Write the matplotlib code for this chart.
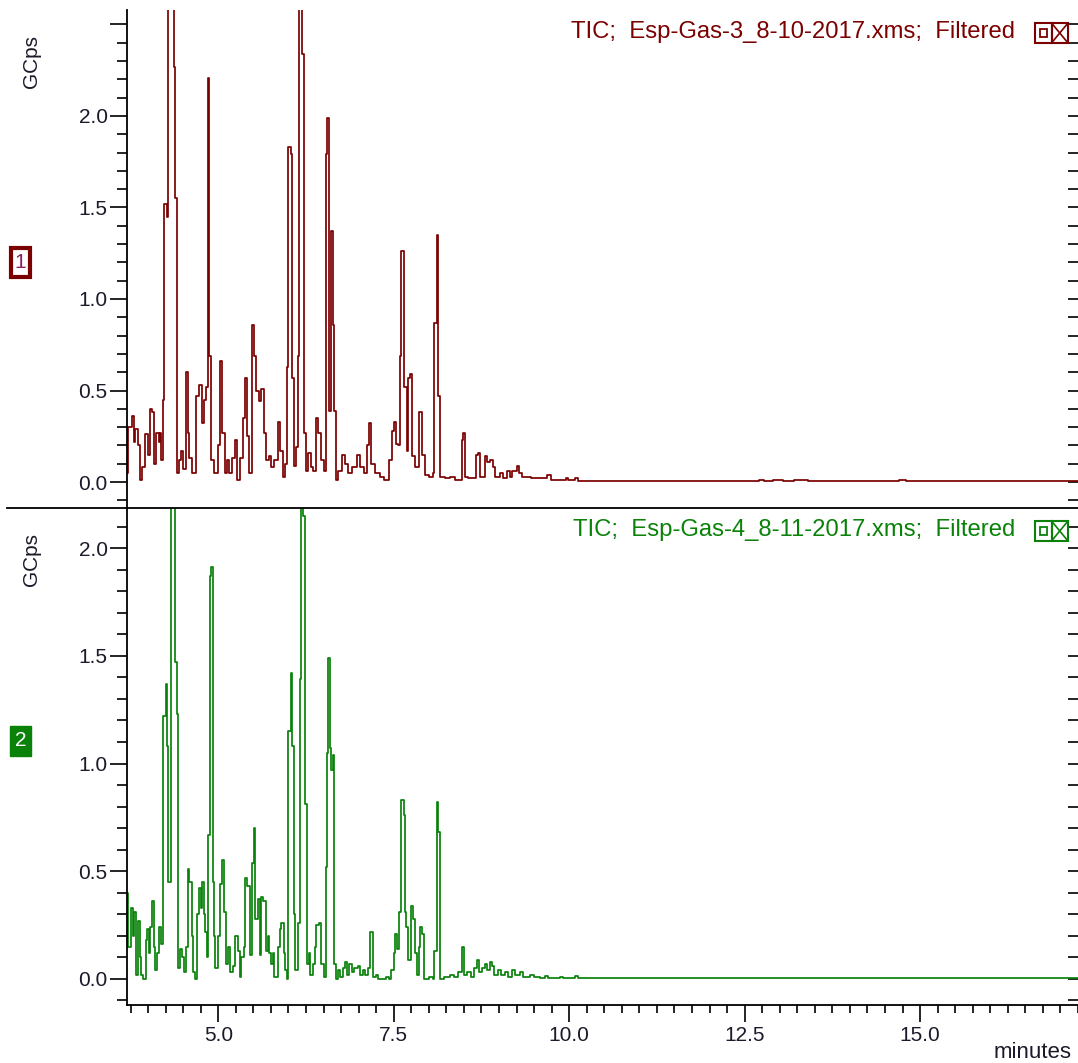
import numpy as np
import matplotlib.pyplot as plt
from matplotlib.lines import Line2D
from matplotlib.patches import Rectangle
from matplotlib.ticker import MultipleLocator, FuncFormatter, FormatStrFormatter

plt.rcParams['font.family'] = ['Liberation Sans', 'DejaVu Sans']

# TIC of Esp-Gas-3: scan time (min) where the signal steps, and its level (GCps)
t_3 = [3.70, 3.72, 3.77, 3.80, 3.82, 3.86, 3.89, 3.92, 3.96, 4.00,
       4.03, 4.06, 4.08, 4.12, 4.15, 4.17, 4.19, 4.21, 4.23, 4.27,
       4.29, 4.37, 4.39, 4.41, 4.44, 4.47, 4.50, 4.54, 4.57, 4.59,
       4.63, 4.68, 4.72, 4.77, 4.79, 4.83, 4.85, 4.87, 4.90, 4.94,
       4.99, 5.02, 5.06, 5.09, 5.13, 5.16, 5.20, 5.24, 5.27, 5.31,
       5.35, 5.38, 5.41, 5.44, 5.48, 5.51, 5.54, 5.58, 5.61, 5.65,
       5.68, 5.72, 5.75, 5.80, 5.85, 5.88, 5.92, 5.95, 5.98, 5.99,
       6.03, 6.05, 6.08, 6.11, 6.13, 6.15, 6.20, 6.22, 6.25, 6.28,
       6.32, 6.35, 6.40, 6.42, 6.46, 6.50, 6.53, 6.55, 6.58, 6.61,
       6.63, 6.65, 6.68, 6.71, 6.76, 6.80, 6.85, 6.90, 6.98, 7.02,
       7.07, 7.12, 7.15, 7.18, 7.23, 7.31, 7.36, 7.43, 7.47, 7.50,
       7.53, 7.56, 7.59, 7.61, 7.64, 7.69, 7.71, 7.73, 7.76, 7.80,
       7.86, 7.90, 7.94, 8.01, 8.06, 8.08, 8.11, 8.13, 8.16, 8.23,
       8.30, 8.38, 8.47, 8.49, 8.52, 8.56, 8.67, 8.70, 8.73, 8.80,
       8.83, 8.87, 8.91, 8.94, 9.01, 9.06, 9.11, 9.15, 9.19, 9.25,
       9.28, 9.33, 9.39, 9.46, 9.62, 9.69, 9.74, 9.96, 9.99, 10.08,
       10.12, 12.70, 12.78, 12.90, 13.05, 13.20, 13.40, 14.70, 14.80, 14.95,
       17.30]
v_3 = [0.05, 0.30, 0.36, 0.22, 0.29, 0.20, 0.01, 0.08, 0.26, 0.15,
       0.40, 0.38, 0.10, 0.27, 0.22, 0.27, 0.12, 0.45, 1.52, 1.45,
       2.80, 2.27, 1.55, 0.05, 0.12, 0.17, 0.07, 0.60, 0.27, 0.13,
       0.05, 0.47, 0.53, 0.32, 0.45, 0.52, 2.21, 0.69, 0.12, 0.05,
       0.20, 0.66, 0.27, 0.05, 0.12, 0.05, 0.13, 0.23, 0.01, 0.13,
       0.35, 0.57, 0.25, 0.05, 0.86, 0.69, 0.50, 0.44, 0.51, 0.27,
       0.12, 0.14, 0.08, 0.12, 0.33, 0.17, 0.03, 0.10, 0.63, 1.83,
       1.79, 0.57, 0.09, 0.19, 0.69, 2.80, 2.34, 0.27, 0.06, 0.16,
       0.08, 0.06, 0.35, 0.27, 0.12, 0.06, 1.79, 1.99, 0.39, 1.37,
       0.86, 0.39, 0.01, 0.06, 0.15, 0.10, 0.05, 0.08, 0.15, 0.08,
       0.05, 0.20, 0.32, 0.10, 0.05, 0.03, 0.01, 0.12, 0.28, 0.33,
       0.21, 0.20, 0.69, 1.26, 0.52, 0.17, 0.57, 0.59, 0.14, 0.08,
       0.38, 0.15, 0.04, 0.03, 0.05, 0.87, 1.35, 0.47, 0.03, 0.02,
       0.03, 0.01, 0.23, 0.27, 0.03, 0.02, 0.15, 0.16, 0.03, 0.14,
       0.11, 0.12, 0.08, 0.03, 0.05, 0.02, 0.06, 0.03, 0.06, 0.09,
       0.05, 0.03, 0.03, 0.02, 0.02, 0.04, 0.01, 0.02, 0.01, 0.02,
       0.003, 0.010, 0.004, 0.010, 0.004, 0.012, 0.003, 0.010, 0.004, 0.003,
       0.003]

# TIC of Esp-Gas-4
t_4 = [3.70, 3.72, 3.75, 3.78, 3.80, 3.83, 3.86, 3.89, 3.90, 3.93,
       3.97, 3.99, 4.01, 4.03, 4.05, 4.08, 4.10, 4.13, 4.16, 4.19,
       4.22, 4.25, 4.27, 4.29, 4.33, 4.38, 4.41, 4.43, 4.45, 4.48,
       4.51, 4.54, 4.57, 4.59, 4.62, 4.64, 4.67, 4.70, 4.72, 4.75,
       4.77, 4.79, 4.81, 4.84, 4.86, 4.88, 4.90, 4.92, 4.94, 4.96,
       4.99, 5.02, 5.05, 5.08, 5.11, 5.14, 5.17, 5.21, 5.24, 5.28,
       5.31, 5.33, 5.36, 5.38, 5.41, 5.45, 5.48, 5.51, 5.53, 5.56,
       5.59, 5.61, 5.64, 5.68, 5.71, 5.73, 5.75, 5.78, 5.80, 5.85,
       5.88, 5.90, 5.93, 5.95, 5.98, 6.00, 6.03, 6.05, 6.08, 6.10,
       6.13, 6.16, 6.18, 6.21, 6.23, 6.26, 6.29, 6.31, 6.35, 6.38,
       6.40, 6.44, 6.47, 6.50, 6.53, 6.55, 6.57, 6.59, 6.61, 6.64,
       6.65, 6.68, 6.71, 6.74, 6.78, 6.80, 6.84, 6.87, 6.90, 6.94,
       6.99, 7.02, 7.06, 7.09, 7.13, 7.16, 7.20, 7.25, 7.28, 7.39,
       7.44, 7.46, 7.50, 7.52, 7.55, 7.58, 7.61, 7.64, 7.66, 7.68,
       7.71, 7.74, 7.78, 7.81, 7.83, 7.86, 7.88, 7.91, 7.93, 8.01,
       8.06, 8.08, 8.11, 8.13, 8.16, 8.22, 8.30, 8.36, 8.42, 8.47,
       8.50, 8.55, 8.60, 8.65, 8.68, 8.71, 8.76, 8.80, 8.83, 8.87,
       8.90, 8.93, 8.99, 9.03, 9.09, 9.13, 9.19, 9.23, 9.30, 9.34,
       9.44, 9.50, 9.59, 9.66, 9.70, 9.87, 9.91, 10.09, 10.13, 12.10,
       12.20, 12.40, 12.50, 17.30]
v_4 = [0.40, 0.15, 0.33, 0.20, 0.31, 0.02, 0.27, 0.10, 0.02, 0.00,
       0.18, 0.23, 0.12, 0.24, 0.36, 0.15, 0.04, 0.12, 0.24, 0.16,
       1.22, 1.37, 1.08, 0.45, 2.60, 1.47, 1.23, 0.05, 0.14, 0.10,
       0.03, 0.15, 0.51, 0.45, 0.20, 0.03, 0.00, 0.30, 0.42, 0.33,
       0.45, 0.30, 0.22, 0.10, 0.67, 1.87, 1.91, 0.45, 0.20, 0.05,
       0.20, 0.44, 0.55, 0.31, 0.07, 0.15, 0.03, 0.06, 0.20, 0.13,
       0.01, 0.10, 0.15, 0.47, 0.43, 0.11, 0.54, 0.70, 0.28, 0.37,
       0.11, 0.38, 0.36, 0.13, 0.20, 0.12, 0.07, 0.12, 0.01, 0.15,
       0.23, 0.26, 0.12, 0.04, 0.00, 1.15, 1.42, 1.08, 0.30, 0.04,
       0.26, 1.39, 2.60, 2.15, 0.81, 0.07, 0.12, 0.02, 0.07, 0.15,
       0.25, 0.26, 0.07, 0.01, 0.52, 1.05, 1.49, 1.07, 0.97, 1.04,
       0.07, 0.00, 0.04, 0.01, 0.05, 0.08, 0.02, 0.07, 0.03, 0.05,
       0.06, 0.02, 0.04, 0.02, 0.05, 0.22, 0.01, 0.02, 0.00, 0.01,
       0.00, 0.04, 0.12, 0.21, 0.14, 0.31, 0.83, 0.76, 0.31, 0.24,
       0.09, 0.34, 0.28, 0.12, 0.02, 0.15, 0.24, 0.21, 0.00, 0.01,
       0.00, 0.13, 0.82, 0.68, 0.00, 0.01, 0.02, 0.01, 0.03, 0.15,
       0.02, 0.03, 0.01, 0.05, 0.09, 0.03, 0.05, 0.07, 0.04, 0.08,
       0.06, 0.02, 0.04, 0.02, 0.03, 0.01, 0.04, 0.02, 0.03, 0.01,
       0.02, 0.01, 0.005, 0.015, 0.005, 0.01, 0.004, 0.012, 0.004, 0.006,
       0.003, 0.005, 0.003, 0.003]

runs = [
    ('TIC;  Esp-Gas-3_8-10-2017.xms;  Filtered', t_3, v_3, '#7b0000', (-0.142, 2.579)),
    ('TIC;  Esp-Gas-4_8-11-2017.xms;  Filtered', t_4, v_4, '#0a820a', (-0.121, 2.186)),
]

W, H = 1078, 1063
fig = plt.figure(figsize=(W / 100, H / 100), dpi=100)

left = 127 / W
panels = [(10, 508), (508, 1005)]
x_lo, x_hi = 3.70, 17.25
tick_col = '#1a1a2a'
ylab = FuncFormatter(lambda v, p: '' if v > 2.2 else '%.1f' % v)

axes = []
for (top_px, bot_px), (title, t, v, col, ylim) in zip(panels, runs):
    hpx = bot_px - top_px
    ax = fig.add_axes([left, 1 - bot_px / H, 1 - left, hpx / H])
    ax.step(t, v, where='post', color=col, lw=1.25)
    ax.set_xlim(x_lo, x_hi)
    ax.set_ylim(*ylim)

    ax.yaxis.set_major_locator(MultipleLocator(0.5))
    ax.yaxis.set_minor_locator(MultipleLocator(0.1))
    ax.yaxis.set_major_formatter(ylab)
    ax.tick_params(axis='y', which='major', length=12, width=1.2, pad=2,
                   labelsize=15, labelcolor=tick_col, color='black')
    ax.tick_params(axis='y', which='minor', length=7, width=1.2, color='black')
    ax.spines['left'].set_linewidth(1.3)
    for s in ('top', 'right'):
        ax.spines[s].set_visible(False)

    # inward ticks along the right edge, no spine
    sec = ax.secondary_yaxis('right')
    sec.yaxis.set_major_locator(MultipleLocator(0.5))
    sec.yaxis.set_minor_locator(MultipleLocator(0.1))
    sec.tick_params(which='both', direction='in', length=7, width=1.2, labelright=False)
    sec.spines['right'].set_visible(False)

    ax.text(-0.10, 1 - 52 / hpx, 'GCps', transform=ax.transAxes,
            rotation=90, ha='center', va='center', fontsize=15, color=tick_col)

    ax.text(0.934, 1 - 22 / hpx, title, transform=ax.transAxes,
            ha='right', va='center', fontsize=17.2, color=col)

    # small window-control boxes next to the trace title
    bx = (1035 - 127) / (W - 127)
    bw = 16.5 / (W - 127)
    bh = 20 / hpx
    by = 1 - 33 / hpx
    for k in range(2):
        ax.add_patch(Rectangle((bx + k * bw, by), bw, bh, transform=ax.transAxes,
                               fill=False, ec=col, lw=1.5, clip_on=False))
    ax.add_patch(Rectangle((bx + 0.3 * bw, by + 0.3 * bh), 0.4 * bw, 0.4 * bh,
                           transform=ax.transAxes, fill=False, ec=col, lw=1.3, clip_on=False))
    ax.plot([bx + bw, bx + 2 * bw], [by, by + bh], color=col, lw=1.2,
            transform=ax.transAxes, clip_on=False)
    ax.plot([bx + bw, bx + 2 * bw], [by + bh, by], color=col, lw=1.2,
            transform=ax.transAxes, clip_on=False)
    axes.append(ax)

ax_top, ax_bot = axes
ax_top.spines['bottom'].set_visible(False)
ax_top.tick_params(axis='x', which='both', bottom=False, labelbottom=False)

ax_bot.xaxis.set_major_locator(MultipleLocator(2.5))
ax_bot.xaxis.set_minor_locator(MultipleLocator(0.25))
ax_bot.xaxis.set_major_formatter(FormatStrFormatter('%.1f'))
ax_bot.tick_params(axis='x', which='major', length=12, width=1.2, pad=3,
                   labelsize=15, labelcolor=tick_col)
ax_bot.tick_params(axis='x', which='minor', length=6, width=1.2)
ax_bot.spines['bottom'].set_linewidth(1.3)
ax_bot.set_xlabel('minutes', fontsize=16, color=tick_col)
ax_bot.xaxis.set_label_coords(0.9935, -0.075)
ax_bot.xaxis.label.set_ha('right')

# separator between the two traces
fig.add_artist(Line2D([7 / W, 1.0], [1 - 508 / H, 1 - 508 / H], color='black', lw=1.3))

# trace number badges
fig.add_artist(Rectangle((11 / W, 1 - 277 / H), 19 / W, 29 / H, fc='white', ec='#7b0000', lw=3))
fig.text(20.5 / W, 1 - 262.5 / H, '1', ha='center', va='center', fontsize=15, color='#8a2060')
fig.add_artist(Rectangle((10 / W, 1 - 756 / H), 21 / W, 30 / H, fc='#0a820a', ec='#0a820a', lw=1))
fig.text(20.5 / W, 1 - 741 / H, '2', ha='center', va='center', fontsize=15, color='white')

fig.savefig('out.png', dpi=100)
